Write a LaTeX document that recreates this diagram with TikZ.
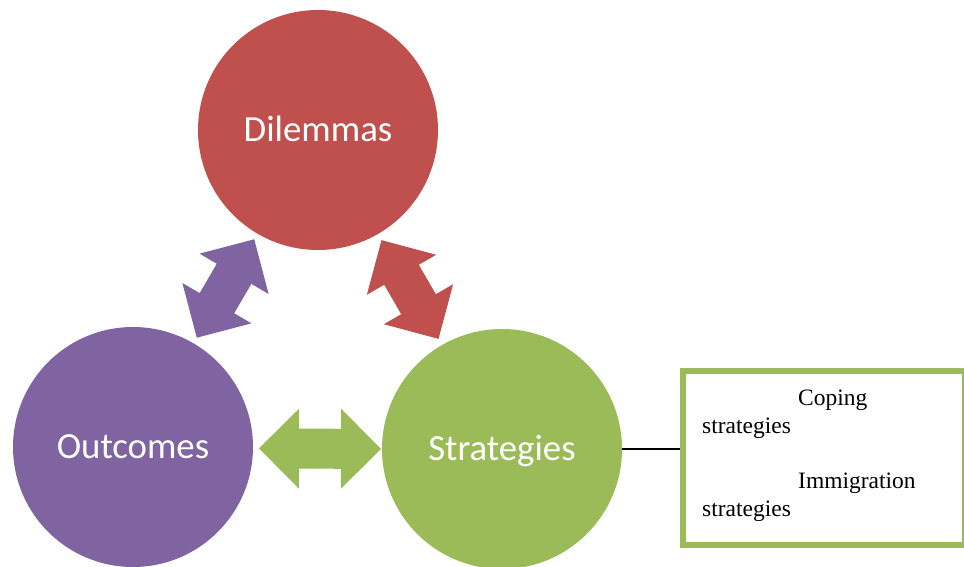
\documentclass[tikz,border=0pt]{standalone}
\usepackage{fontspec}
\setmainfont{Liberation Serif}
\newfontfamily\labelfont{Carlito}
\usetikzlibrary{calc}
\definecolor{cred}{HTML}{C0504D}
\definecolor{cpurple}{HTML}{8064A2}
\definecolor{cgreen}{HTML}{9BBB59}
\tikzset{
  circ/.style={circle, fill=#1, minimum size=240pt, inner sep=0pt, text=white,
    font=\labelfont\fontsize{36.8}{40}\selectfont, text height=23.7pt, text depth=0pt},
  boxtxt/.style={anchor=base west, inner sep=0pt, font=\fontsize{23.5}{28}\selectfont},
  link/.style={draw=black, line width=1.3pt}
}
\newcommand\dblblock[3]{%
  \coordinate (#1b) at ($(#1)!40pt!(#2)$);
  \coordinate (#2b) at ($(#2)!40pt!(#1)$);
  \fill[#3] (#1) -- ($(#1b)!40pt!90:(#2)$) -- ($(#1b)!20pt!90:(#2)$)
    -- ($(#2b)!20pt!-90:(#1)$) -- ($(#2b)!40pt!-90:(#1)$) -- (#2)
    -- ($(#2b)!40pt!90:(#1)$) -- ($(#2b)!20pt!90:(#1)$)
    -- ($(#1b)!20pt!-90:(#2)$) -- ($(#1b)!40pt!-90:(#2)$) -- cycle;
}
\begin{document}
\begin{tikzpicture}[x=1pt,y=-1pt]
\clip (0,0) rectangle (964,567);
\fill[white] (0,0) rectangle (964,567);
% circles
\node[circ=cred] (dil) at (318,130) {Dilemmas};
\node[circ=cpurple] (out) at (133,447) {Outcomes};
\node[circ=cgreen] (str) at (502,449) {Strategies};
% arrows
\coordinate (pm) at ($(out.center)!0.5!(dil.center)$);
\coordinate (pa) at ($(pm)!57pt!(dil.center)$);
\coordinate (pb) at ($(pm)!57pt!(out.center)$);
\dblblock{pa}{pb}{cpurple}
\coordinate (rm) at ($(dil.center)!0.5!(str.center)$);
\coordinate (ra) at ($(rm)!57pt!(dil.center)$);
\coordinate (rb) at ($(rm)!57pt!(str.center)$);
\dblblock{ra}{rb}{cred}
\coordinate (gm) at (320,449);
\coordinate (ga) at ($(gm)!61pt!(out.center)$);
\coordinate (gb) at ($(gm)!61pt!(str.center)$);
\dblblock{ga}{gb}{cgreen}
% box
\node[draw=cgreen, line width=6pt, minimum width=282pt, minimum height=174pt,
  inner sep=0pt, anchor=north west] (box) at (680,368) {};
\draw[link] (str.east) -- (str.east -| box.west);
\node[boxtxt] (c1) at (798,405) {Coping};
\node[boxtxt] (c2) at (702,433) {strategies};
\node[boxtxt] (i1) at (798,488) {Immigration};
\node[boxtxt] (i2) at (702,516) {strategies};
\end{tikzpicture}
\end{document}
